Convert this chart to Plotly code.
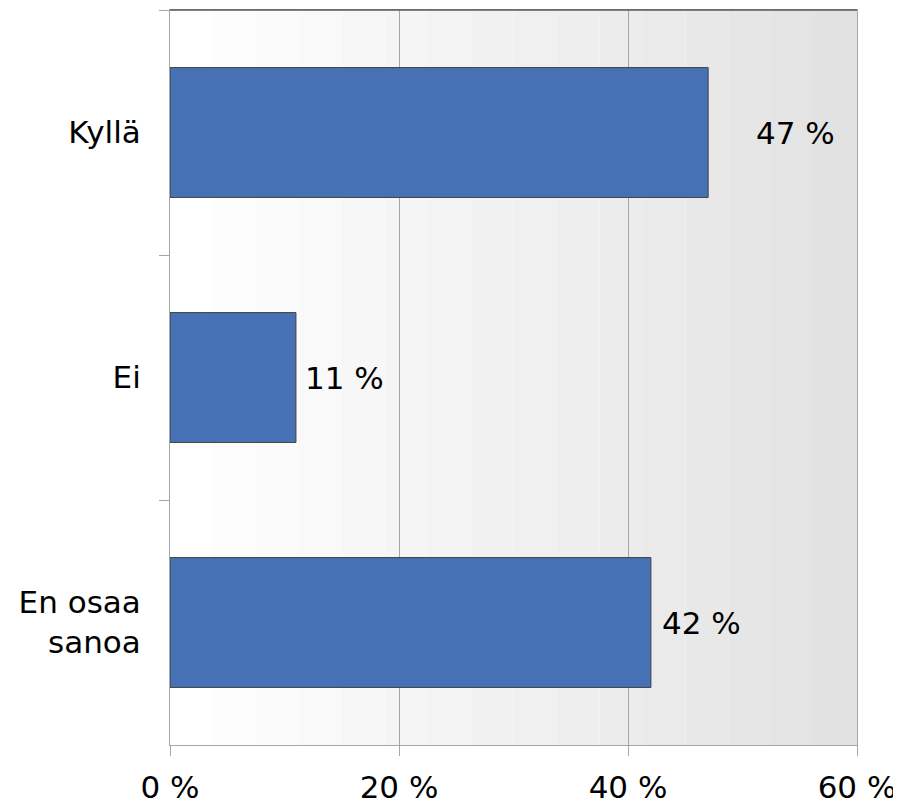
import plotly.graph_objects as go

categories = ["Kyllä", "Ei", "En osaa<br>sanoa"]
values = [47, 11, 42]
value_labels = ["47 %", "11 %", "42 %"]
x_ticks = [0, 20, 40, 60]
x_tick_labels = ["0 %", "20 %", "40 %", "60 %"]

FONT = "DejaVu Sans, Verdana, sans-serif"
FS = 31
label_shift = [46, 7, 9]

fig = go.Figure()
fig.add_trace(go.Bar(
    y=categories, x=values, orientation="h",
    marker=dict(color="#4771b5", line=dict(color="#404040", width=1)),
    hoverinfo="skip",
))

for c, v, t, s in zip(categories, values, value_labels, label_shift):
    fig.add_annotation(x=v, y=c, text=t, showarrow=False, xanchor="left",
                       xshift=s, font=dict(family=FONT, size=FS, color="#000"))

# background gradient bands (white -> light gray)
n = 16
for i in range(n):
    g = round(255 - (255 - 226) * i / (n - 1))
    fig.add_shape(type="rect", xref="x domain", yref="y domain",
                  x0=i / n, x1=(i + 1) / n, y0=0, y1=1,
                  fillcolor=f"rgb({g},{g},{g})", line=dict(width=0), layer="below")

# dark top border
fig.add_shape(type="line", xref="x domain", yref="y domain", x0=0, x1=1, y0=1, y1=1,
              line=dict(color="#595959", width=1.5))

fig.update_layout(
    width=901, height=810,
    margin=dict(l=162, r=52, t=2, b=73),
    plot_bgcolor="rgba(0,0,0,0)", paper_bgcolor="white",
    bargap=0.47, showlegend=False,
    font=dict(family=FONT, size=FS, color="#000"),
)
fig.update_xaxes(
    range=[0, 60], tickvals=x_ticks, ticktext=x_tick_labels,
    showgrid=True, gridcolor="#a6a6a6", gridwidth=1,
    showline=True, linecolor="#a6a6a6", linewidth=1, mirror=True,
    ticks="outside", ticklen=10, tickcolor="#a6a6a6",
    ticklabelstandoff=5, zeroline=False,
    tickfont=dict(family=FONT, size=FS, color="#000"),
)
fig.update_yaxes(
    autorange="reversed", tickson="boundaries",
    showgrid=False, showline=True, linecolor="#a6a6a6", linewidth=1, mirror=True,
    ticks="outside", ticklen=10, tickcolor="#a6a6a6",
    ticklabelstandoff=22,
    tickfont=dict(family=FONT, size=FS, color="#000"),
)

fig.write_html("out.html")
